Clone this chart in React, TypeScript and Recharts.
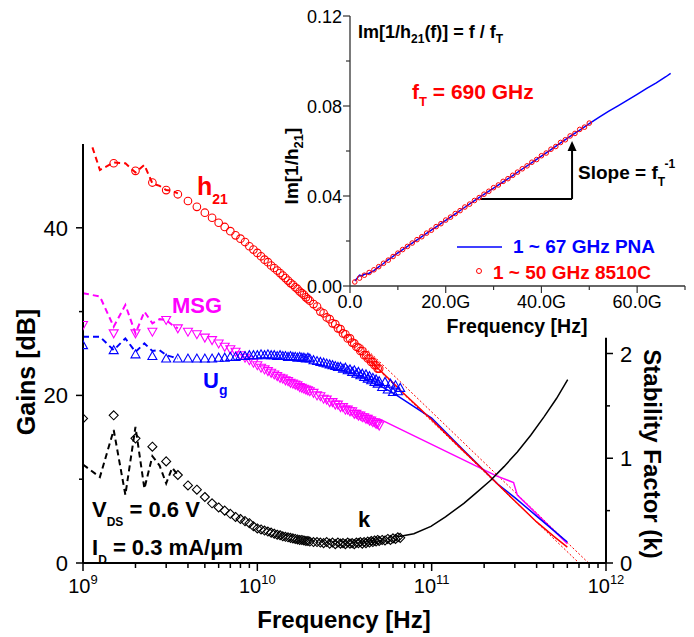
import React from 'react';
import { ComposedChart, Line, Scatter, XAxis, YAxis, ReferenceLine, ReferenceDot } from 'recharts';

const FONT = '"Liberation Sans", Arial, Helvetica, sans-serif';
const RED = '#FF0000';
const MAG = '#FF00FF';
const BLUE = '#0000FF';
const BLACK = '#000000';

// ---------- Main chart data (frequency in GHz) ----------
const fMarker = [1, 1.5, 2, 2.5, 3, 3.5, 4, 4.5, 5, 5.5, 6, 6.5, 7, 7.5, 8, 8.5, 9, 9.5, 10, 10.5, 11, 11.5, 12, 12.5, 13, 13.5, 14, 14.5, 15, 15.5, 16, 16.5, 17, 17.5, 18, 18.5, 19, 19.5, 20,
  21, 22, 23, 24, 25, 26, 27, 28, 29, 30, 31, 32, 33, 34, 35, 36, 37, 38, 39, 40, 41, 42, 43, 44, 45, 46, 47, 48, 49, 50];
const h21Marker = [51.0, 47.7, 46.8, 45.4, 44.5, 44.0, 43.2, 42.5, 41.8, 41.2, 40.6, 40.1, 39.6, 39.1, 38.7, 38.3, 37.8, 37.4, 37.0, 36.6, 36.2, 35.9, 35.5, 35.2, 34.9, 34.6, 34.3, 34.0, 33.7, 33.4, 33.2, 32.9, 32.7, 32.4, 32.2, 32.0, 31.7, 31.5, 31.3,
  30.9, 30.6, 30.0, 29.8, 29.3, 29.1, 28.6, 28.5, 28.0, 27.9, 27.4, 27.3, 26.8, 26.8, 26.3, 26.2, 25.8, 25.7, 25.3, 25.3, 24.8, 24.8, 24.4, 24.4, 24.0, 24.0, 23.6, 23.6, 23.2, 23.2];
const msgMarker = [28.4, 27.4, 27.4, 27.6, 29.0, 28.0, 27.6, 27.3, 26.9, 26.6, 26.2, 25.8, 25.5, 25.2, 24.8, 24.5, 24.2, 23.9, 23.6, 23.3, 23.1, 22.9, 22.7, 22.5, 22.3, 22.1, 22.0, 21.8, 21.7, 21.5, 21.4, 21.3, 21.2, 21.0, 20.9, 20.8, 20.7, 20.6, 20.5,
  20.3, 20.0, 19.9, 19.6, 19.5, 19.2, 19.2, 18.9, 18.9, 18.6, 18.6, 18.3, 18.3, 18.1, 18.1, 17.8, 17.8, 17.6, 17.6, 17.4, 17.4, 17.2, 17.2, 17.0, 17.0, 16.8, 16.8, 16.6, 16.6, 16.4];
const ugMarker = [26.0, 25.4, 24.9, 24.7, 24.4, 24.4, 24.4, 24.4, 24.4, 24.4, 24.5, 24.5, 24.6, 24.6, 24.7, 24.7, 24.8, 24.8, 24.8, 24.9, 24.8, 24.9, 24.8, 24.8, 24.7, 24.8, 24.7, 24.7, 24.6, 24.7, 24.6, 24.6, 24.5, 24.6, 24.5, 24.5, 24.4, 24.5, 24.4,
  24.2, 24.1, 24.0, 23.9, 23.8, 23.7, 23.6, 23.5, 23.4, 23.4, 23.2, 23.3, 23.0, 23.1, 22.8, 23.0, 22.6, 22.8, 22.4, 22.6, 22.2, 22.5, 22.0, 22.3, 21.8, 22.1, 21.6, 21.9, 21.4, 21.7];
const kMarker = [1.38, 1.41, 1.19, 1.11, 0.97, 0.84, 0.74, 0.70, 0.63, 0.57, 0.53, 0.50, 0.47, 0.44, 0.42, 0.40, 0.38, 0.35, 0.33, 0.32, 0.31, 0.30, 0.29, 0.28, 0.27, 0.265, 0.255, 0.25, 0.245, 0.24, 0.235, 0.23, 0.225, 0.22, 0.22, 0.215, 0.21, 0.21, 0.205,
  0.20, 0.20, 0.195, 0.19, 0.20, 0.185, 0.195, 0.18, 0.195, 0.185, 0.19, 0.18, 0.195, 0.185, 0.19, 0.18, 0.195, 0.19, 0.20, 0.185, 0.20, 0.19, 0.205, 0.195, 0.21, 0.20, 0.215, 0.205, 0.22, 0.21];

const fMarkerExt = [52, 54, 56, 58, 60, 62, 64, 66];
const ugMarkerExt = [21.0, 21.6, 20.7, 21.4, 20.4, 21.2, 20.5, 20.9];
const kMarkerExt = [0.22, 0.215, 0.23, 0.22, 0.235, 0.23, 0.245, 0.24];

const fDash = [1, 1.25, 1.5, 1.75, 2, 2.25, 2.5, 2.75, 3, 3.25, 3.5];
const h21Dash = [53.0, 46.9, 47.8, 47.7, 46.6, 47.5, 45.3, 45.0, 44.5, 44.4, 44.1];
const msgDash = [32.2, 31.8, 28.2, 30.8, 27.4, 30.0, 28.6, 29.1, 29.0, 28.4, 28.0];
const ugDash = [27.0, 27.0, 25.4, 26.8, 25.2, 26.2, 25.3, 25.4, 24.8, 24.6, 24.4];
const kDash = [0.94, 0.82, 1.27, 0.65, 1.30, 0.71, 1.02, 0.93, 0.76, 0.91, 0.84];

const fH21Fit = [45, 50, 60, 67, 80, 100, 150, 200, 250, 300, 400, 500, 600];
const h21Fit = [24.1, 23.1, 21.5, 20.5, 19.0, 17.1, 13.5, 11.0, 9.0, 7.4, 4.9, 3.2, 1.9];
const fUgFit = [50, 60, 80, 100, 150, 240, 300, 400, 500, 600];
const ugFit = [21.2, 20.3, 18.6, 17.3, 13.6, 9.4, 7.8, 5.6, 3.9, 2.5];
const fMsgFit = [50, 235, 295, 310, 600];
const msgFit = [17.2, 10.4, 9.6, 8.1, 2.3];
const fKFit = [64, 79, 99, 120, 153, 180, 218, 260, 310, 370, 443, 520, 603];
const kFit = [0.25, 0.28, 0.35, 0.44, 0.57, 0.67, 0.79, 0.92, 1.06, 1.22, 1.40, 1.57, 1.75];

const fExtrapA = [40, 700];
const extrapA = [24.9, 0];
const fExtrapB = [40, 794];
const extrapB = [26.0, 0];

const mainXTicks = [1e9, 2e9, 3e9, 4e9, 5e9, 6e9, 7e9, 8e9, 9e9, 1e10, 2e10, 3e10, 4e10, 5e10, 6e10, 7e10, 8e10, 9e10,
  1e11, 2e11, 3e11, 4e11, 5e11, 6e11, 7e11, 8e11, 9e11, 1e12];
const gainTicks = [0, 10, 20, 30, 40];
const kTicks = [0, 0.5, 1, 1.5, 2];

// ---------- Inset data (frequency in GHz) ----------
const pnaF = [1, 1.5, 2, 2.5, 3, 4, 5, 6, 7, 8, 9, 10, 12, 14, 16, 18, 20, 22, 24, 26, 28, 30, 32, 34, 36, 38, 40, 42, 44, 46, 48, 50, 52, 54, 56, 58, 60, 62, 64, 66, 67];
const pnaV = [0.0022, 0.0035, 0.0048, 0.0045, 0.0052, 0.0057, 0.0068, 0.0085, 0.0100, 0.0117, 0.0132, 0.0147, 0.0176, 0.0205, 0.0234, 0.0263, 0.0292, 0.0321, 0.0350, 0.0379, 0.0407, 0.0435, 0.0463, 0.0491, 0.0520, 0.0548, 0.0577, 0.0606, 0.0636, 0.0665, 0.0693, 0.0722, 0.0749, 0.0776, 0.0801, 0.0826, 0.0852, 0.0878, 0.0903, 0.0930, 0.0945];
const c8510F = [1, 2, 3, 4, 5, 6, 7, 8, 9, 10, 11, 12, 13, 14, 15, 16, 17, 18, 19, 20, 21, 22, 23, 24, 25, 26, 27, 28, 29, 30, 31, 32, 33, 34, 35, 36, 37, 38, 39, 40, 41, 42, 43, 44, 45, 46, 47, 48, 49, 50];
const c8510V = [0.0018, 0.0035, 0.0048, 0.0060, 0.0072, 0.0086, 0.0101, 0.0115, 0.0131, 0.0146, 0.0162, 0.0176, 0.0191, 0.0206, 0.0219, 0.0235, 0.0248, 0.0264, 0.0277, 0.0293,
  0.0306, 0.0322, 0.0335, 0.0351, 0.0364, 0.0380, 0.0393, 0.0408, 0.0421, 0.0437, 0.0449, 0.0465, 0.0477, 0.0492, 0.0506, 0.0521, 0.0534, 0.0550, 0.0562, 0.0579,
  0.0591, 0.0608, 0.0620, 0.0638, 0.0650, 0.0667, 0.0678, 0.0696, 0.0706, 0.0724];
const insetXTicks = [0, 10, 20, 30, 40, 50, 60, 70];
const insetYTicks = [0, 0.02, 0.04, 0.06, 0.08, 0.1, 0.12];
// slope triangle annotation (data coords)
const slopeX = [27.2, 46.4];
const slopeY = [0.0387, 0.0644];

const pts = (fs: number[], vs: number[], scale: number) => fs.map((f, i) => ({ f: f * scale, v: vs[i] }));

// ---------- marker shapes ----------
const circleShape = (color: string, r: number, sw = 1.1) => (p: any) =>
  <circle cx={p.cx} cy={p.cy} r={r} fill="none" stroke={color} strokeWidth={sw} />;
const triDownShape = (color: string) => (p: any) => {
  const { cx, cy } = p;
  return <path d={`M${cx - 4.5},${cy - 3.5} L${cx + 4.5},${cy - 3.5} L${cx},${cy + 4.5} Z`} fill="none" stroke={color} strokeWidth={1.1} />;
};
const triUpShape = (color: string) => (p: any) => {
  const { cx, cy } = p;
  return <path d={`M${cx - 4.5},${cy + 3.5} L${cx + 4.5},${cy + 3.5} L${cx},${cy - 4.5} Z`} fill="none" stroke={color} strokeWidth={1.1} />;
};
const diamondShape = (color: string) => (p: any) => {
  const { cx, cy } = p;
  return <path d={`M${cx},${cy - 4.5} L${cx + 4.5},${cy} L${cx},${cy + 4.5} L${cx - 4.5},${cy} Z`} fill="none" stroke={color} strokeWidth={1.1} />;
};

// ---------- ticks ----------
const MainXTick = (p: any) => {
  const { x, y, payload } = p;
  const v = payload.value;
  const lg = Math.log10(v);
  const major = Math.abs(lg - Math.round(lg)) < 1e-6;
  return (
    <g>
      <line x1={x} y1={y} x2={x} y2={y + (major ? 8 : 5)} stroke="#000" strokeWidth={1.5} />
      {major && (
        <text x={x} y={y + 30} textAnchor="middle" fontSize={20} fontFamily={FONT} fill="#000">
          <tspan>10</tspan>
          <tspan dy={-9} fontSize={13}>{Math.round(lg)}</tspan>
        </text>
      )}
    </g>
  );
};
const LeftTick = (p: any) => {
  const { x, y, payload } = p;
  const major = payload.value % 20 === 0;
  return (
    <g>
      <line x1={x - (major ? 7 : 4)} y1={y} x2={x} y2={y} stroke="#000" strokeWidth={1.5} />
      {major && (
        <text x={x - 15} y={y + 8} textAnchor="end" fontSize={22} fontFamily={FONT} fill="#000">{payload.value}</text>
      )}
    </g>
  );
};
const RightTick = (p: any) => {
  const { x, y, payload } = p;
  const major = Number.isInteger(payload.value);
  return (
    <g>
      <line x1={x} y1={y} x2={x + (major ? 7 : 4)} y2={y} stroke="#000" strokeWidth={1.5} />
      {major && (
        <text x={x + 14} y={y + 8} textAnchor="start" fontSize={22} fontFamily={FONT} fill="#000">{payload.value}</text>
      )}
    </g>
  );
};
const InsetXTick = (p: any) => {
  const { x, y, payload } = p;
  const v = payload.value;
  const major = v % 20 === 0;
  return (
    <g>
      <line x1={x} y1={y} x2={x} y2={y + (major ? 7 : 4)} stroke="#333" strokeWidth={1.2} />
      {major && (
        <text x={x} y={y + 22} textAnchor="middle" fontSize={18} fontFamily={FONT} fill="#000">
          {v === 0 ? '0.0' : `${v.toFixed(1)}G`}
        </text>
      )}
    </g>
  );
};
const InsetYTick = (p: any) => {
  const { x, y, payload } = p;
  const v = payload.value;
  const major = Math.round(v * 100) % 4 === 0;
  return (
    <g>
      <line x1={x - (major ? 7 : 4)} y1={y} x2={x} y2={y} stroke="#333" strokeWidth={1.2} />
      {major && (
        <text x={x - 8} y={y + 6.5} textAnchor="end" fontSize={18} fontFamily={FONT} fill="#000">{v.toFixed(2)}</text>
      )}
    </g>
  );
};

const B = { fontFamily: FONT, fontWeight: 700 as const };

export default function App() {
  const S = 1e9;
  return (
    <div style={{ position: 'absolute', left: 0, top: 0, width: 694, height: 637, background: '#fff', overflow: 'hidden' }}>
      <div style={{ position: 'absolute', left: 0, top: 0 }}>
        <ComposedChart width={694} height={637} margin={{ top: 144, right: 0, bottom: 0, left: 0 }}>
          <XAxis dataKey="f" type="number" scale="log" domain={[1e9, 1e12]} allowDataOverflow ticks={mainXTicks} interval={0}
            tick={MainXTick} tickLine={false} tickSize={0} tickMargin={0} height={74} axisLine={{ stroke: '#000', strokeWidth: 2 }} />
          <YAxis yAxisId="left" dataKey="v" type="number" domain={[0, 50]} allowDataOverflow ticks={gainTicks} interval={0} width={83}
            tick={LeftTick} tickLine={false} tickSize={0} tickMargin={0} axisLine={{ stroke: '#000', strokeWidth: 2 }} />
          <YAxis yAxisId="right" dataKey="v" orientation="right" type="number" domain={[0, 4]} allowDataOverflow ticks={kTicks} interval={0} width={88}
            tick={RightTick} tickLine={false} tickSize={0} tickMargin={0} axisLine={false} />
          <ReferenceLine yAxisId="right" segment={[{ x: 1e12, y: 0 }, { x: 1e12, y: 2.15 }]} stroke="#000" strokeWidth={2} ifOverflow="visible" />

          {/* extrapolation lines */}
          <Line yAxisId="left" data={pts(fExtrapA, extrapA, S)} dataKey="v" stroke={RED} strokeWidth={1} strokeDasharray="2 2" dot={false} activeDot={false} isAnimationActive={false} />
          <Line yAxisId="left" data={pts(fExtrapB, extrapB, S)} dataKey="v" stroke={RED} strokeWidth={1} strokeDasharray="2 2" dot={false} activeDot={false} isAnimationActive={false} />

          {/* fits */}
          <Line yAxisId="left" data={pts(fMsgFit, msgFit, S)} dataKey="v" stroke={MAG} strokeWidth={1.5} dot={false} activeDot={false} isAnimationActive={false} />
          <Line yAxisId="left" data={pts(fUgFit, ugFit, S)} dataKey="v" stroke={BLUE} strokeWidth={1.5} dot={false} activeDot={false} isAnimationActive={false} />
          <Line yAxisId="left" data={pts(fH21Fit, h21Fit, S)} dataKey="v" stroke={RED} strokeWidth={1.5} dot={false} activeDot={false} isAnimationActive={false} />
          <Line yAxisId="right" data={pts(fKFit, kFit, S)} dataKey="v" stroke={BLACK} strokeWidth={1.5} dot={false} activeDot={false} isAnimationActive={false} />

          {/* low-frequency dashed */}
          <Line yAxisId="left" data={pts(fDash, h21Dash, S)} dataKey="v" stroke={RED} strokeWidth={2} strokeDasharray="6 4" dot={false} activeDot={false} isAnimationActive={false} />
          <Line yAxisId="left" data={pts(fDash, msgDash, S)} dataKey="v" stroke={MAG} strokeWidth={2} strokeDasharray="6 4" dot={false} activeDot={false} isAnimationActive={false} />
          <Line yAxisId="left" data={pts(fDash, ugDash, S)} dataKey="v" stroke={BLUE} strokeWidth={2} strokeDasharray="6 4" dot={false} activeDot={false} isAnimationActive={false} />
          <Line yAxisId="right" data={pts(fDash, kDash, S)} dataKey="v" stroke={BLACK} strokeWidth={2} strokeDasharray="6 4" dot={false} activeDot={false} isAnimationActive={false} />

          {/* markers */}
          <Scatter yAxisId="left" data={pts(fMarker, h21Marker, S)} dataKey="v" shape={circleShape(RED, 3.8)} isAnimationActive={false} />
          <Scatter yAxisId="left" data={pts(fMarker, msgMarker, S)} dataKey="v" shape={triDownShape(MAG)} isAnimationActive={false} />
          <Scatter yAxisId="left" data={pts(fMarker, ugMarker, S)} dataKey="v" shape={triUpShape(BLUE)} isAnimationActive={false} />
          <Scatter yAxisId="left" data={pts(fMarkerExt, ugMarkerExt, S)} dataKey="v" shape={triUpShape(BLUE)} isAnimationActive={false} />
          <Scatter yAxisId="right" data={pts(fMarker, kMarker, S)} dataKey="v" shape={diamondShape(BLACK)} isAnimationActive={false} />
          <Scatter yAxisId="right" data={pts(fMarkerExt, kMarkerExt, S)} dataKey="v" shape={diamondShape(BLACK)} isAnimationActive={false} />
        </ComposedChart>
      </div>

      <div style={{ position: 'absolute', left: 280, top: 0 }}>
        <ComposedChart width={414} height={340} margin={{ top: 16, right: 9, bottom: 0, left: 0 }}>
          <XAxis dataKey="f" type="number" domain={[0, 70]} allowDataOverflow ticks={insetXTicks} interval={0}
            tick={InsetXTick} tickLine={false} tickSize={0} tickMargin={0} height={54} axisLine={{ stroke: '#333', strokeWidth: 1.3 }} />
          <YAxis dataKey="v" type="number" domain={[0, 0.12]} allowDataOverflow ticks={insetYTicks} interval={0} width={70}
            tick={InsetYTick} tickLine={false} tickSize={0} tickMargin={0} axisLine={{ stroke: '#333', strokeWidth: 1.3 }} />
          <ReferenceLine segment={[{ x: slopeX[0], y: slopeY[0] }, { x: slopeX[1], y: slopeY[0] }]} stroke="#000" strokeWidth={2} />
          <ReferenceLine segment={[{ x: slopeX[1], y: slopeY[0] }, { x: slopeX[1], y: slopeY[1] - 0.003 }]} stroke="#000" strokeWidth={2} />
          <ReferenceDot x={slopeX[1]} y={slopeY[1]} r={4}
            shape={(p: any) => <path d={`M${p.cx},${p.cy} L${p.cx - 4.5},${p.cy + 10} L${p.cx + 4.5},${p.cy + 10} Z`} fill="#000" />} />
          <Scatter data={pts(c8510F, c8510V, 1)} dataKey="v" shape={circleShape(RED, 2.3, 1)} isAnimationActive={false} />
          <Line data={pts(pnaF, pnaV, 1)} dataKey="v" stroke={BLUE} strokeWidth={1.5} dot={false} activeDot={false} isAnimationActive={false} />
        </ComposedChart>
      </div>

      <svg width={694} height={637} style={{ position: 'absolute', left: 0, top: 0, pointerEvents: 'none' }}>
        {/* main axis titles */}
        <text x={35} y={372} transform="rotate(-90 35 372)" textAnchor="middle" fontSize={25} {...B}>Gains [dB]</text>
        <text x={644} y={454} transform="rotate(90 644 454)" textAnchor="middle" fontSize={24} {...B}>Stability Factor (k)</text>
        <text x={344} y={628} textAnchor="middle" fontSize={24} {...B}>Frequency [Hz]</text>

        {/* series labels */}
        <text x={197} y={195} fontSize={25} fill={RED} {...B}>h<tspan fontSize={14} dy={9}>21</tspan></text>
        <text x={172} y={313} fontSize={22} fill={MAG} {...B}>MSG</text>
        <text x={203} y={388} fontSize={22} fill={BLUE} {...B}>U<tspan fontSize={14} dy={7}>g</tspan></text>
        <text x={358} y={527} fontSize={22} fill={BLACK} {...B}>k</text>
        <text x={92} y={517} fontSize={22} {...B}>V<tspan fontSize={12} dy={9}>DS</tspan><tspan dy={-9}> = 0.6 V</tspan></text>
        <text x={92} y={555} fontSize={22} {...B}>I<tspan fontSize={12} dy={9}>D</tspan><tspan dy={-9}> = 0.3 mA/μm</tspan></text>

        {/* inset texts */}
        <text x={517} y={333} textAnchor="middle" fontSize={19.5} {...B}>Frequency [Hz]</text>
        <text x={298} y={166} transform="rotate(-90 298 166)" textAnchor="middle" fontSize={19} {...B}>Im[1/h<tspan fontSize={13} dy={5}>21</tspan><tspan dy={-5}>]</tspan></text>
        <text x={358} y={38} fontSize={18} {...B}>Im[1/h<tspan fontSize={12} dy={5}>21</tspan><tspan dy={-5}>(f)] = f / f</tspan><tspan fontSize={12} dy={5}>T</tspan></text>
        <text x={412} y={99} fontSize={21} fill={RED} {...B}>f<tspan fontSize={13} dy={7}>T</tspan><tspan dy={-7}> = 690 GHz</tspan></text>
        <text x={578} y={179} fontSize={19} {...B}>Slope = f<tspan fontSize={12} dy={7}>T</tspan><tspan fontSize={12} dy={-18}>-1</tspan></text>

        {/* inset legend */}
        <line x1={457} y1={247} x2={502} y2={247} stroke={BLUE} strokeWidth={1.5} />
        <text x={513} y={253} fontSize={19} fill={BLUE} {...B}>1 ~ 67 GHz PNA</text>
        <circle cx={479} cy={271} r={2.5} fill="none" stroke={RED} strokeWidth={1} />
        <text x={493} y={279} fontSize={19} fill={RED} {...B}>1 ~ 50 GHz 8510C</text>
      </svg>
    </div>
  );
}
